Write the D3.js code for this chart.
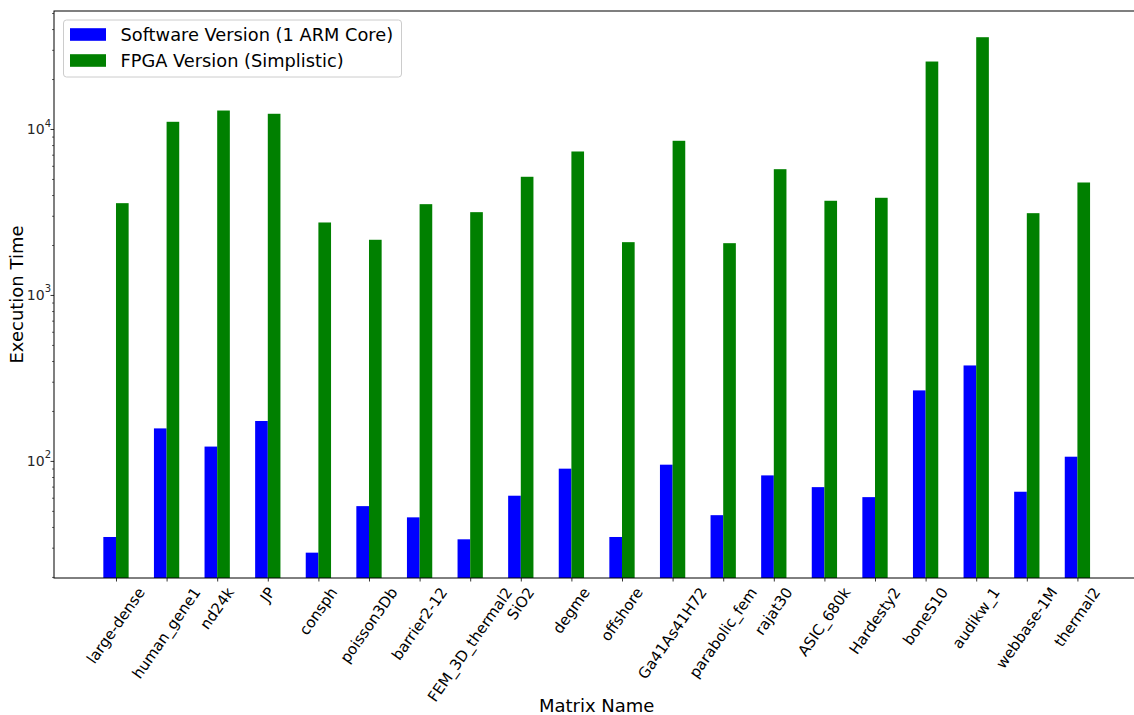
<!DOCTYPE html>
<html>
<head>
<meta charset="utf-8">
<script src="https://cdn.jsdelivr.net/npm/d3@7"></script>
<style>
  html, body { margin: 0; padding: 0; background: #fff; }
  svg { display: block; font-family: "DejaVu Sans", sans-serif; }
</style>
</head>
<body>
<svg id="chart" width="1134" height="715"></svg>
<script>
// Matrix names on the x axis
const matrices = [
  "large-dense", "human_gene1", "nd24k", "JP", "consph", "poisson3Db",
  "barrier2-12", "FEM_3D_thermal2", "SiO2", "degme", "offshore",
  "Ga41As41H72", "parabolic_fem", "rajat30", "ASIC_680k", "Hardesty2",
  "boneS10", "audikw_1", "webbase-1M", "thermal2"
];

// Execution times, software run on one ARM core
const softwareTimes = [
  34.8, 157, 122, 174, 28.0, 53.4,
  45.7, 33.7, 61.7, 89.8, 34.8,
  94.9, 47.1, 81.8, 69.5, 60.5,
  266, 376, 65.2, 106
];

// Execution times, simplistic FPGA implementation
const fpgaTimes = [
  3573, 11050, 12920, 12350, 2733, 2150,
  3524, 3154, 5153, 7319, 2080,
  8490, 2051, 5725, 3694, 3850,
  25500, 35730, 3110, 4760
];

const seriesNames = ["Software Version (1 ARM Core)", "FPGA Version (Simplistic)"];
const seriesColors = ["#0000ff", "#008000"];
const yMajorTicks = [100, 1000, 10000];
const yTickExponents = ["2", "3", "4"];

const svg = d3.select("#chart");
const plot = { left: 54, top: 11, bottom: 578, right: 1139.4 };
const barWidth = 0.25;

const x = d3.scaleLinear()
  .domain([-1.225, matrices.length - 1 + 1.225])
  .range([plot.left, plot.right]);

const y = d3.scaleLog()
  .domain([19.7, 51400])
  .range([plot.bottom, plot.top]);

// Bars: software to the left of each tick, FPGA to the right
const series = [softwareTimes, fpgaTimes];
series.forEach((vals, s) => {
  svg.append("g")
    .selectAll("rect")
    .data(vals)
    .join("rect")
    .attr("x", (d, i) => x(i + (s === 0 ? -barWidth : 0)))
    .attr("width", x(barWidth) - x(0))
    .attr("y", d => y(d))
    .attr("height", d => plot.bottom - y(d))
    .attr("fill", seriesColors[s]);
});

// Minor ticks on the log axis
const [yMin, yMax] = y.domain();
const minorTicks = [];
for (let e = 1; e <= 4; e++) {
  for (let k = 2; k <= 9; k++) {
    const v = k * Math.pow(10, e);
    if (v >= yMin && v <= yMax) minorTicks.push(v);
  }
}

const yAxisMinor = svg.append("g")
  .attr("transform", `translate(${plot.left},0)`)
  .call(d3.axisLeft(y).tickValues(minorTicks).tickSize(2).tickFormat(""));
yAxisMinor.select(".domain").remove();
yAxisMinor.selectAll("line").attr("stroke", "#000").attr("stroke-width", 0.6);

const yAxis = svg.append("g")
  .attr("transform", `translate(${plot.left},0)`)
  .call(d3.axisLeft(y).tickValues(yMajorTicks).tickSize(3.5).tickFormat(""));
yAxis.select(".domain").remove();
yAxis.selectAll("line").attr("stroke", "#000").attr("stroke-width", 0.8);

// Power-of-ten labels with superscript exponents
yMajorTicks.forEach((v, i) => {
  const t = svg.append("text")
    .attr("x", plot.left - 3)
    .attr("y", y(v))
    .attr("dy", "0.36em")
    .attr("text-anchor", "end")
    .attr("font-size", 14)
    .attr("fill", "#262626");
  t.append("tspan").text("10");
  t.append("tspan").attr("font-size", 10).attr("dy", "-0.75em").text(yTickExponents[i]);
});

// Category axis
const xAxis = svg.append("g")
  .attr("transform", `translate(0,${plot.bottom})`)
  .call(d3.axisBottom(x).tickValues(d3.range(matrices.length)).tickSize(3.5).tickFormat(""));
xAxis.select(".domain").remove();
xAxis.selectAll("line").attr("stroke", "#000").attr("stroke-width", 0.8);

// Rotated category labels, rotated box centred under each tick
const angle = 55;
const rad = angle * Math.PI / 180;
const labelTop = plot.bottom + 7;
const labelSize = 15;
matrices.forEach((name, i) => {
  const t = svg.append("text")
    .attr("font-size", labelSize)
    .attr("fill", "#000")
    .attr("text-anchor", "middle")
    .attr("dominant-baseline", "central")
    .text(name);
  const w = t.node().getComputedTextLength();
  const h = labelSize * 1.0;
  const boxH = w * Math.sin(rad) + h * Math.cos(rad);
  const cx = x(i);
  const cy = labelTop + boxH / 2;
  t.attr("x", cx).attr("y", cy)
   .attr("transform", `rotate(${-angle},${cx},${cy})`);
});

// Frame
svg.append("rect")
  .attr("x", plot.left)
  .attr("y", plot.top)
  .attr("width", plot.right - plot.left)
  .attr("height", plot.bottom - plot.top)
  .attr("fill", "none")
  .attr("stroke", "#000")
  .attr("stroke-width", 1);

// Axis titles
svg.append("text")
  .attr("x", (plot.left + plot.right) / 2)
  .attr("y", 712)
  .attr("text-anchor", "middle")
  .attr("font-size", 18)
  .attr("fill", "#000")
  .text("Matrix Name");

svg.append("text")
  .attr("transform", `translate(23,${(plot.top + plot.bottom) / 2}) rotate(-90)`)
  .attr("text-anchor", "middle")
  .attr("font-size", 18)
  .attr("fill", "#000")
  .text("Execution Time");

// Legend
const legend = svg.append("g");
legend.append("rect")
  .attr("x", 63.5).attr("y", 20)
  .attr("width", 338).attr("height", 57)
  .attr("rx", 3).attr("ry", 3)
  .attr("fill", "#fff").attr("fill-opacity", 0.8)
  .attr("stroke", "#cccccc").attr("stroke-width", 1);

seriesNames.forEach((name, i) => {
  const cy = 34.5 + i * 26;
  legend.append("rect")
    .attr("x", 70).attr("y", cy - 6.3)
    .attr("width", 36).attr("height", 12.6)
    .attr("fill", seriesColors[i]);
  legend.append("text")
    .attr("x", 120.5).attr("y", cy)
    .attr("dy", "0.36em")
    .attr("font-size", 17.8)
    .attr("fill", "#000")
    .text(name);
});
</script>
</body>
</html>
